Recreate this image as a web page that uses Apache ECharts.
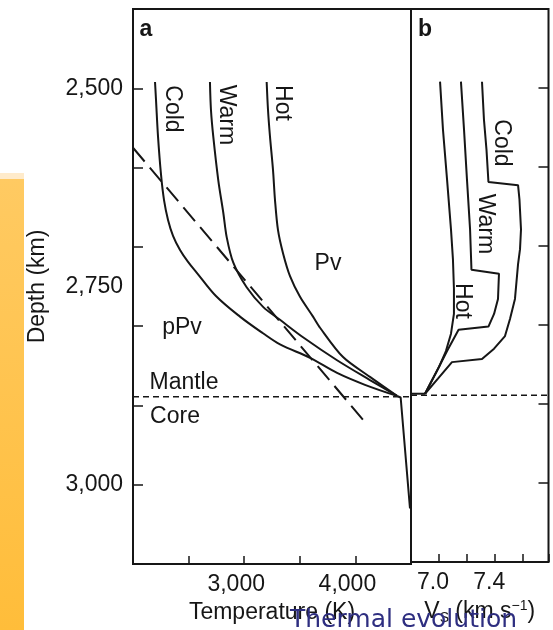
<!DOCTYPE html>
<html>
<head>
<meta charset="utf-8">
<script src="https://cdn.jsdelivr.net/npm/echarts@6/dist/echarts.min.js"></script>
<style>
  html, body { margin: 0; padding: 0; background: #fff; }
  #chart { width: 553px; height: 630px; }
</style>
</head>
<body>
<div id="chart"></div>
<script>
// axes
var depthRange = [2400, 3100];
var tempRange = [2000, 4500];
var velRange = [6.8, 7.78];
var depthLabels = [2500, 2750, 3000];
var tempLabels = [3000, 4000];
var velLabels = [7.0, 7.4];
var cmbDepth = 2889;

// panel a: temperature profiles, [T (K), depth (km)]
var tempCold = [[2198, 2492], [2207, 2515], [2225, 2561], [2252, 2609], [2279, 2641], [2315, 2666],
  [2360, 2686], [2423, 2704], [2495, 2719], [2576, 2733], [2746, 2762], [2962, 2788], [3169, 2809],
  [3322, 2823], [3592, 2840], [3835, 2859], [4086, 2874], [4374, 2888]];
var tempWarm = [[2692, 2492], [2701, 2527], [2722, 2561], [2767, 2616], [2812, 2657], [2843, 2688],
  [2902, 2720], [3022, 2751], [3172, 2776], [3322, 2792], [3529, 2814], [3835, 2843],
  [4131, 2868], [4374, 2888]];
var tempHot = [[3202, 2492], [3214, 2527], [3232, 2561], [3259, 2603], [3277, 2641], [3304, 2679],
  [3349, 2708], [3412, 2737], [3502, 2763], [3619, 2788], [3682, 2802], [3889, 2839],
  [4131, 2864], [4374, 2888]];
var tempCore = [[4374, 2888], [4407, 2890], [4491, 3030]];
var phaseBoundary = [[2000, 2575], [4086, 2921]];

// panel b: shear velocity profiles, [Vs (km/s), depth (km)]
var velHot = [[7.007, 2492], [7.028, 2553], [7.057, 2616], [7.085, 2679], [7.099, 2717], [7.106, 2754],
  [7.106, 2786], [7.085, 2811], [7.049, 2833], [7.0, 2853], [6.95, 2870], [6.9, 2887]];
var velWarm = [[7.156, 2492], [7.178, 2553], [7.199, 2616], [7.221, 2679], [7.231, 2730], [7.427, 2735],
  [7.42, 2767], [7.392, 2786], [7.352, 2802], [7.139, 2806], [7.057, 2833], [6.985, 2858], [6.9, 2887]];
var velCold = [[7.306, 2492], [7.32, 2540], [7.338, 2578], [7.352, 2619], [7.563, 2623], [7.573, 2641],
  [7.584, 2679], [7.577, 2704], [7.563, 2723], [7.541, 2767], [7.506, 2792], [7.47, 2814],
  [7.392, 2830], [7.306, 2843], [7.092, 2847], [6.992, 2868], [6.9, 2887]];
var velCore = [[6.8, 2887], [6.9, 2887]];

var ink = '#161616';
var font = '"Liberation Sans", Arial, Helvetica, sans-serif';

function near(list, v) {
  for (var i = 0; i < list.length; i++) if (Math.abs(list[i] - v) < 1e-6) return true;
  return false;
}
function curve(x, y, data, extra) {
  var s = {
    type: 'line', xAxisIndex: x, yAxisIndex: y, data: data, symbol: 'none', silent: true,
    lineStyle: { color: ink, width: 2 }
  };
  for (var k in extra) s[k] = extra[k];
  return s;
}
function vlabel(x, y, s) {
  return { type: 'text', x: x, y: y, rotation: -Math.PI / 2,
    style: { text: s, fill: ink, fontSize: 23, fontFamily: font, align: 'center', verticalAlign: 'middle' } };
}
function hlabel(x, y, s, bold) {
  return { type: 'text', x: x, y: y,
    style: { text: s, fill: ink, fontSize: 23, fontFamily: font, fontWeight: bold ? 'bold' : 'normal',
      align: 'center', verticalAlign: 'middle' } };
}

var chart = echarts.init(document.getElementById('chart'), null, { renderer: 'canvas' });

var depthTicks = { show: true, inside: true, length: 10, lineStyle: { color: ink, width: 1.5 } };

chart.setOption({
  animation: false,
  textStyle: { fontFamily: font, color: ink },
  title: {
    text: 'Thermal evolution', left: 285, top: 603,
    textStyle: { fontFamily: '"DejaVu Sans", sans-serif', fontSize: 25, fontWeight: 'normal', color: '#2e2e80' }
  },
  grid: [
    { left: 133, top: 9, width: 278, height: 555, show: true, borderColor: ink, borderWidth: 2, backgroundColor: 'transparent' },
    { left: 411, top: 9, width: 137.5, height: 555, show: true, borderColor: ink, borderWidth: 2, backgroundColor: 'transparent' }
  ],
  xAxis: [
    {
      type: 'value', gridIndex: 0, min: tempRange[0], max: tempRange[1], interval: 500,
      axisLine: { show: false }, splitLine: { show: false },
      axisTick: { show: true, inside: true, length: 8, lineStyle: { color: ink, width: 1.5 } },
      axisLabel: {
        color: ink, fontSize: 23, margin: 9, padding: [0, 16, 0, 0],
        formatter: function (v) { return near(tempLabels, v) ? echarts.format.addCommas(v) : ''; }
      },
      name: 'Temperature (K)', nameLocation: 'middle', nameGap: 37,
      nameTextStyle: { color: ink, fontSize: 23 }
    },
    {
      type: 'value', gridIndex: 1, min: velRange[0], max: velRange[1], interval: 0.2,
      axisLine: { show: false }, splitLine: { show: false },
      axisTick: { show: true, inside: true, length: 8, lineStyle: { color: ink, width: 1.5 } },
      axisLabel: {
        color: ink, fontSize: 23, margin: 9, padding: [0, 12, 0, 0],
        formatter: function (v) { return near(velLabels, v) ? v.toFixed(1) : ''; }
      },
      name: '{n|V}{sub|S}{n| (km s}{sup|\u22121}{n|)}', nameLocation: 'middle', nameGap: 37,
      nameTextStyle: {
        color: ink,
        rich: {
          n: { fontSize: 23, lineHeight: 26, color: ink },
          sub: { fontSize: 14, lineHeight: 14, verticalAlign: 'bottom', color: ink },
          sup: { fontSize: 14, lineHeight: 14, verticalAlign: 'top', color: ink }
        }
      }
    }
  ],
  yAxis: [
    {
      type: 'value', gridIndex: 0, position: 'left', inverse: true, min: depthRange[0], max: depthRange[1], interval: 100,
      axisLine: { show: false }, splitLine: { show: false }, axisLabel: { show: false }, axisTick: depthTicks
    },
    {
      type: 'value', gridIndex: 0, position: 'left', inverse: true, min: depthRange[0], max: depthRange[1], interval: 50,
      axisLine: { show: false }, splitLine: { show: false }, axisTick: { show: false },
      axisLabel: {
        color: ink, fontSize: 23, margin: 10,
        formatter: function (v) { return near(depthLabels, v) ? echarts.format.addCommas(v) : ''; }
      },
      name: 'Depth (km)', nameLocation: 'middle', nameGap: 84,
      nameTextStyle: { color: ink, fontSize: 23 }
    },
    {
      type: 'value', gridIndex: 1, position: 'right', inverse: true, min: depthRange[0], max: depthRange[1], interval: 100,
      axisLine: { show: false }, splitLine: { show: false }, axisLabel: { show: false }, axisTick: depthTicks
    }
  ],
  series: [
    curve(0, 0, tempCold, { smooth: 0.35 }),
    curve(0, 0, tempWarm, { smooth: 0.3 }),
    curve(0, 0, tempHot, { smooth: 0.3 }),
    curve(0, 0, tempCore),
    curve(0, 0, phaseBoundary, { lineStyle: { color: ink, width: 2, type: [18, 8] } }),
    curve(0, 0, [[tempRange[0], cmbDepth], [tempRange[1], cmbDepth]], { lineStyle: { color: ink, width: 1.5, type: [6, 4] } }),
    curve(1, 2, velHot),
    curve(1, 2, velWarm),
    curve(1, 2, velCold),
    curve(1, 2, velCore),
    curve(1, 2, [[velRange[0], cmbDepth], [velRange[1], cmbDepth]], { lineStyle: { color: ink, width: 1.5, type: [6, 4] } })
  ],
  graphic: [
    {
      type: 'rect', shape: { x: 0, y: 179, width: 24, height: 451 },
      style: { fill: new echarts.graphic.LinearGradient(0, 0, 0, 1, [
        { offset: 0, color: '#ffca62' }, { offset: 1, color: '#ffbd3a' }]) }
    },
    { type: 'rect', shape: { x: 0, y: 173, width: 24, height: 6 }, style: { fill: '#ffebcb' } },
    hlabel(146, 30, 'a', true),
    hlabel(425, 30, 'b', true),
    vlabel(172, 109, 'Cold'),
    vlabel(226, 115, 'Warm'),
    vlabel(282, 103, 'Hot'),
    hlabel(328, 264, 'Pv'),
    hlabel(182, 328, 'pPv'),
    hlabel(184, 383, 'Mantle'),
    hlabel(175, 417, 'Core'),
    vlabel(501, 143, 'Cold'),
    vlabel(485, 224, 'Warm'),
    vlabel(462, 301, 'Hot')
  ]
});
window.addEventListener('resize', function () { chart.resize(); });
</script>
</body>
</html>
